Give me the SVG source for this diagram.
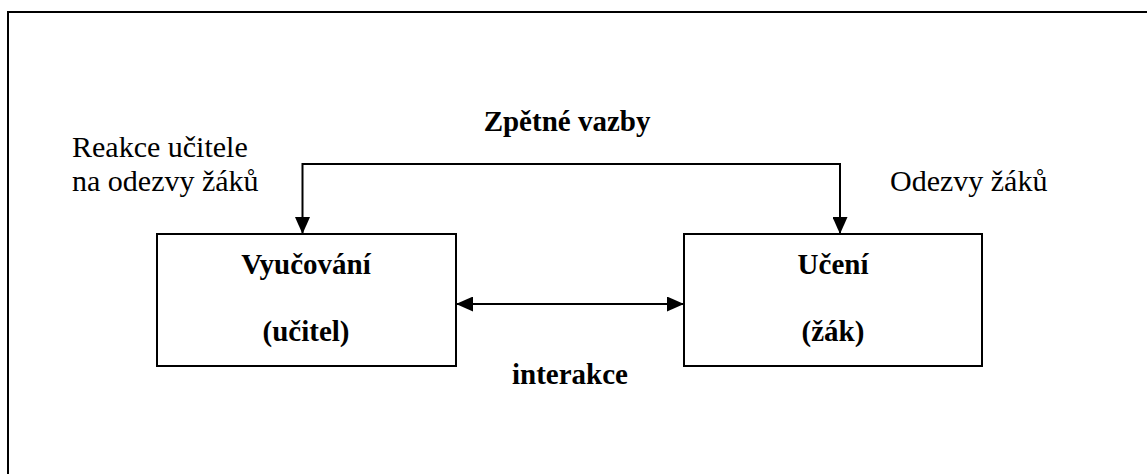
<svg xmlns="http://www.w3.org/2000/svg" width="1147" height="474" viewBox="0 0 1147 474">
<style>
.frame{fill:none;stroke:#000;stroke-width:2}
.box{fill:#fff;stroke:#000;stroke-width:2}
.conn{fill:none;stroke:#000;stroke-width:2}
text{font-family:'Liberation Serif','Times New Roman','DejaVu Serif',serif;font-size:29px;fill:#000}
.b{font-weight:bold;text-anchor:middle}
.r{font-size:30px}
</style>
<defs>
<marker id="ah" viewBox="0 0 17 15" refX="17" refY="7.5" markerWidth="17" markerHeight="15" markerUnits="userSpaceOnUse" orient="auto-start-reverse">
<path d="M0,0 L17,7.5 L0,15 Z" fill="#000"/>
</marker>
</defs>
<rect width="1147" height="474" fill="#fff"/>
<polyline class="frame" points="8,474 8,12 1147,12"/>
<g id="connectors">
<path class="conn" d="M302.5,234 V164 H840 V234" marker-start="url(#ah)" marker-end="url(#ah)"/>
<line class="conn" x1="456" y1="304" x2="684" y2="304" marker-start="url(#ah)" marker-end="url(#ah)"/>
</g>
<g id="vyucovani">
<rect class="box" x="157" y="234" width="299" height="132"/>
<text class="b" x="306" y="274">Vyučování</text>
<text class="b" x="306" y="341">(učitel)</text>
</g>
<g id="uceni">
<rect class="box" x="684" y="234" width="298" height="132"/>
<text class="b" x="833" y="274">Učení</text>
<text class="b" x="833" y="341">(žák)</text>
</g>
<g id="labels">
<text class="b" x="567" y="131">Zpětné vazby</text>
<text class="b" x="570" y="384">interakce</text>
<text class="r" x="72" y="157">Reakce učitele</text>
<text class="r" x="72" y="191">na odezvy žáků</text>
<text class="r" x="890" y="191">Odezvy žáků</text>
</g>
</svg>
